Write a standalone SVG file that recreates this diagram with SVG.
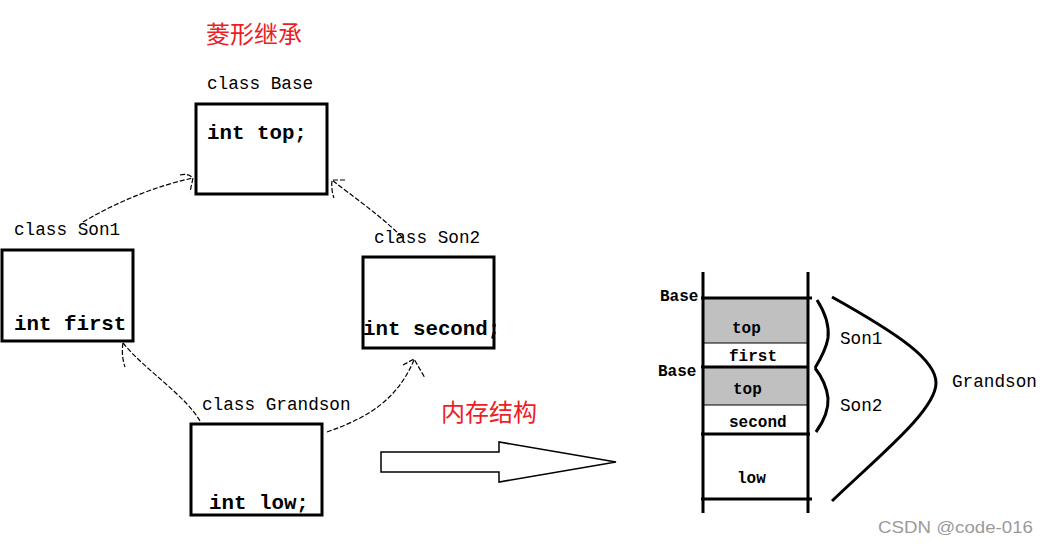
<svg xmlns="http://www.w3.org/2000/svg" width="1050" height="544" viewBox="0 0 1050 544">
<style>
.box{fill:#fff;stroke:#000;stroke-width:3}
.lbl{font-family:"Liberation Mono",monospace;font-size:17.7px;fill:#000}
.code{font-family:"Liberation Mono",monospace;font-size:20.8px;font-weight:bold;fill:#000}
.cn{font-family:"Noto Sans CJK SC",sans-serif;font-size:24px;fill:#ee1c25}
.dash{fill:none;stroke:#000;stroke-width:1.2;stroke-dasharray:5 2}
.thick{stroke:#000;stroke-width:3;fill:none}
.thin{stroke:#000;stroke-width:1;fill:none}
.mem{font-family:"Liberation Mono",monospace;font-size:16px;font-weight:bold;fill:#000}
.side{font-family:"Liberation Mono",monospace;font-size:17.7px;fill:#000}
</style>
<rect width="1050" height="544" fill="#fff"/>
<text class="cn" x="206" y="43">菱形继承</text>
<g id="base">
<text class="lbl" x="207" y="89">class Base</text>
<rect class="box" x="196" y="104" width="131" height="90"/>
<text class="code" x="207" y="139">int top;</text>
</g>
<g id="son1">
<text class="lbl" x="14" y="235">class Son1</text>
<rect class="box" x="2" y="250" width="131" height="91"/>
<text class="code" x="14" y="330">int first</text>
</g>
<g id="son2">
<text class="lbl" x="374" y="243">class Son2</text>
<rect class="box" x="363" y="257" width="131" height="91"/>
<text class="code" x="363" y="335">int second;</text>
</g>
<g id="grandson">
<text class="lbl" x="202" y="410">class Grandson</text>
<rect class="box" x="191" y="424" width="131" height="91"/>
<text class="code" x="209" y="509">int low;</text>
</g>
<g id="connectors">
<path class="dash" d="M83,222 C120,200 160,185 193,178"/>
<path class="dash" d="M180,175 Q188,173 193,178 L190,192"/>
<path class="dash" d="M402,237 C380,215 352,196 332,180"/>
<path class="dash" d="M345,180 L332,180 Q331,190 334,198"/>
<path class="dash" d="M200,421 C185,395 145,370 123,343"/>
<path class="dash" d="M123,343 Q121,355 125,367"/>
<path class="dash" d="M327,432 C360,420 395,405 414,360"/>
<path class="dash" d="M403,365 L414,359 L425,378"/>
</g>
<text class="cn" x="441" y="421">内存结构</text>
<g id="big-arrow">
<polygon points="381,452 499,452 499,442 616,462 499,482 499,472 381,472" fill="#fff" stroke="#000" stroke-width="1.5"/>
</g>
<g id="memory">
<rect x="703" y="298" width="105" height="45" fill="#c0c0c0"/>
<rect x="703" y="367" width="105" height="38" fill="#c0c0c0"/>
<line class="thick" x1="703" y1="272" x2="703" y2="513"/>
<line class="thick" x1="808" y1="272" x2="808" y2="513"/>
<line class="thick" x1="701" y1="298" x2="812" y2="298"/>
<line class="thick" x1="701" y1="367" x2="808" y2="367"/>
<line class="thick" x1="701" y1="434" x2="810" y2="434"/>
<line class="thick" x1="701" y1="499" x2="812" y2="499"/>
<line class="thin" x1="703" y1="343" x2="808" y2="343"/>
<line class="thin" x1="703" y1="405" x2="808" y2="405"/>
<text class="mem" x="660" y="301">Base</text>
<text class="mem" x="732" y="333">top</text>
<text class="mem" x="729" y="361">first</text>
<text class="mem" x="658" y="376">Base</text>
<text class="mem" x="733" y="394">top</text>
<text class="mem" x="729" y="427">second</text>
<text class="mem" x="737" y="483">low</text>
</g>
<g id="braces">
<path class="thick" d="M817,300 Q830,320 828,338 Q826,350 815,368"/>
<path class="thick" d="M815,368 Q826,382 828,398 Q829,414 816,432"/>
<path class="thick" d="M832,297 C900,335 936,360 936,383 C936,410 880,455 832,501"/>
<text class="side" x="840" y="344">Son1</text>
<text class="side" x="840" y="411">Son2</text>
<text class="side" x="952" y="387">Grandson</text>
</g>
<text x="878" y="533" font-family="'Liberation Sans',sans-serif" font-size="17" fill="#9a9a9a" textLength="155" lengthAdjust="spacingAndGlyphs">CSDN @code-016</text>
</svg>
